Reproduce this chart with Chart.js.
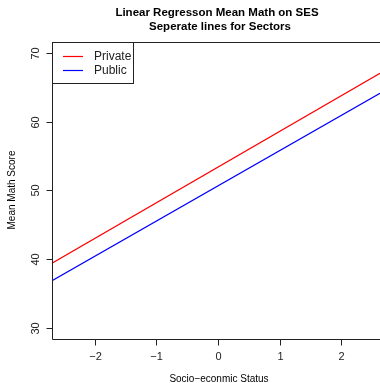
<!DOCTYPE html>
<html>
<head>
<meta charset="utf-8">
<script src="https://cdn.jsdelivr.net/npm/chart.js@4/dist/chart.umd.min.js"></script>
<style>
  html, body { margin: 0; padding: 0; background: #fff; overflow: hidden; }
  canvas { display: block; }
</style>
</head>
<body>
<canvas id="myChart" width="380" height="383"></canvas>
<script>
'use strict';

// data (line ends at the visible plot edges)
let sesRange = [-2.695, 2.63];
let privateScores = [39.42, 67.05];
let publicScores = [36.89, 64.13];
let sectorNames = ['Private', 'Public'];
let sectorColors = ['#ff0000', '#0000ff'];
let xTicks = [-2, -1, 0, 1, 2];
let yTicks = [30, 40, 50, 60, 70];

let titleLines = ['Linear Regresson Mean Math on SES', 'Seperate lines for Sectors'];
let xTitle = 'Socio\u2212econmic Status';
let yTitle = 'Mean Math Score';

function toPoints(ys) {
    return sesRange.map((x, i) => ({ x: x, y: ys[i] }));
}

function fmt(v) {
    return v < 0 ? '\u2212' + Math.abs(v) : String(v);
}

// R style box, ticks, labels and legend
let rAxes = {
    id: 'rAxes',
    afterDraw(chart) {
        let ctx = chart.ctx;
        let a = chart.chartArea;
        let xs = chart.scales.x;
        let ys = chart.scales.y;
        let L = Math.round(a.left) + 0.5;
        let T = Math.round(a.top) + 0.5;
        let B = Math.round(a.bottom) + 0.5;
        ctx.save();
        ctx.strokeStyle = '#222';
        ctx.lineWidth = 1;
        ctx.beginPath();
        ctx.moveTo(380, T); ctx.lineTo(L, T); ctx.lineTo(L, B); ctx.lineTo(380, B);
        ctx.stroke();

        ctx.fillStyle = '#222';
        ctx.font = '11px "Liberation Sans", Arial, sans-serif';
        // x ticks
        ctx.textAlign = 'center';
        ctx.textBaseline = 'middle';
        xTicks.forEach(v => {
            let px = Math.round(xs.getPixelForValue(v)) + 0.5;
            ctx.beginPath(); ctx.moveTo(px, B); ctx.lineTo(px, B + 6); ctx.stroke();
            ctx.fillText(fmt(v), px, 357);
        });
        // y ticks, rotated labels
        yTicks.forEach(v => {
            let py = Math.round(ys.getPixelForValue(v)) + 0.5;
            ctx.beginPath(); ctx.moveTo(L, py); ctx.lineTo(L - 6, py); ctx.stroke();
            ctx.save();
            ctx.translate(36, py);
            ctx.rotate(-Math.PI / 2);
            ctx.fillText(fmt(v), 0, 0);
            ctx.restore();
        });

        // axis titles
        ctx.fillStyle = '#000';
        ctx.font = '10px "Liberation Sans", Arial, sans-serif';
        ctx.fillText(xTitle, 219, 379);
        ctx.save();
        ctx.translate(12, 190);
        ctx.rotate(-Math.PI / 2);
        ctx.fillText(yTitle, 0, 0);
        ctx.restore();

        // main title
        ctx.font = 'bold 11.5px "Liberation Sans", Arial, sans-serif';
        ctx.fillText(titleLines[0], 217, 12.5);
        ctx.fillText(titleLines[1], 220, 26.5);

        // legend box
        ctx.fillStyle = '#fff';
        ctx.fillRect(L, T, 81, 41);
        ctx.strokeStyle = '#222';
        ctx.strokeRect(L, T, 81, 41);
        ctx.font = '12px "Liberation Sans", Arial, sans-serif';
        ctx.textAlign = 'left';
        sectorNames.forEach((name, i) => {
            let y = 56.5 + i * 14;
            ctx.strokeStyle = sectorColors[i];
            ctx.lineWidth = 1.2;
            ctx.beginPath(); ctx.moveTo(63, y); ctx.lineTo(83, y); ctx.stroke();
            ctx.fillStyle = '#222';
            ctx.fillText(name, 94, y);
        });
        ctx.restore();
    }
};

let chartEl = document.getElementById('myChart').getContext('2d');
let myChart = new Chart(chartEl, {
    type: 'scatter',
    data: {
        datasets: [{
            label: sectorNames[0],
            data: toPoints(privateScores),
            showLine: true,
            borderColor: sectorColors[0],
            borderWidth: 1.2,
            pointRadius: 0
        }, {
            label: sectorNames[1],
            data: toPoints(publicScores),
            showLine: true,
            borderColor: sectorColors[1],
            borderWidth: 1.2,
            pointRadius: 0
        }]
    },
    options: {
        responsive: false,
        animation: false,
        devicePixelRatio: 1,
        layout: { padding: { left: 52, top: 42, right: 0, bottom: 44 } },
        plugins: {
            legend: { display: false },
            title: { display: false },
            tooltip: { enabled: false }
        },
        scales: {
            x: { type: 'linear', display: false, min: sesRange[0], max: sesRange[1] },
            y: { type: 'linear', display: false, min: 28.4, max: 71.6 }
        }
    },
    plugins: [rAxes]
});
</script>
</body>
</html>
